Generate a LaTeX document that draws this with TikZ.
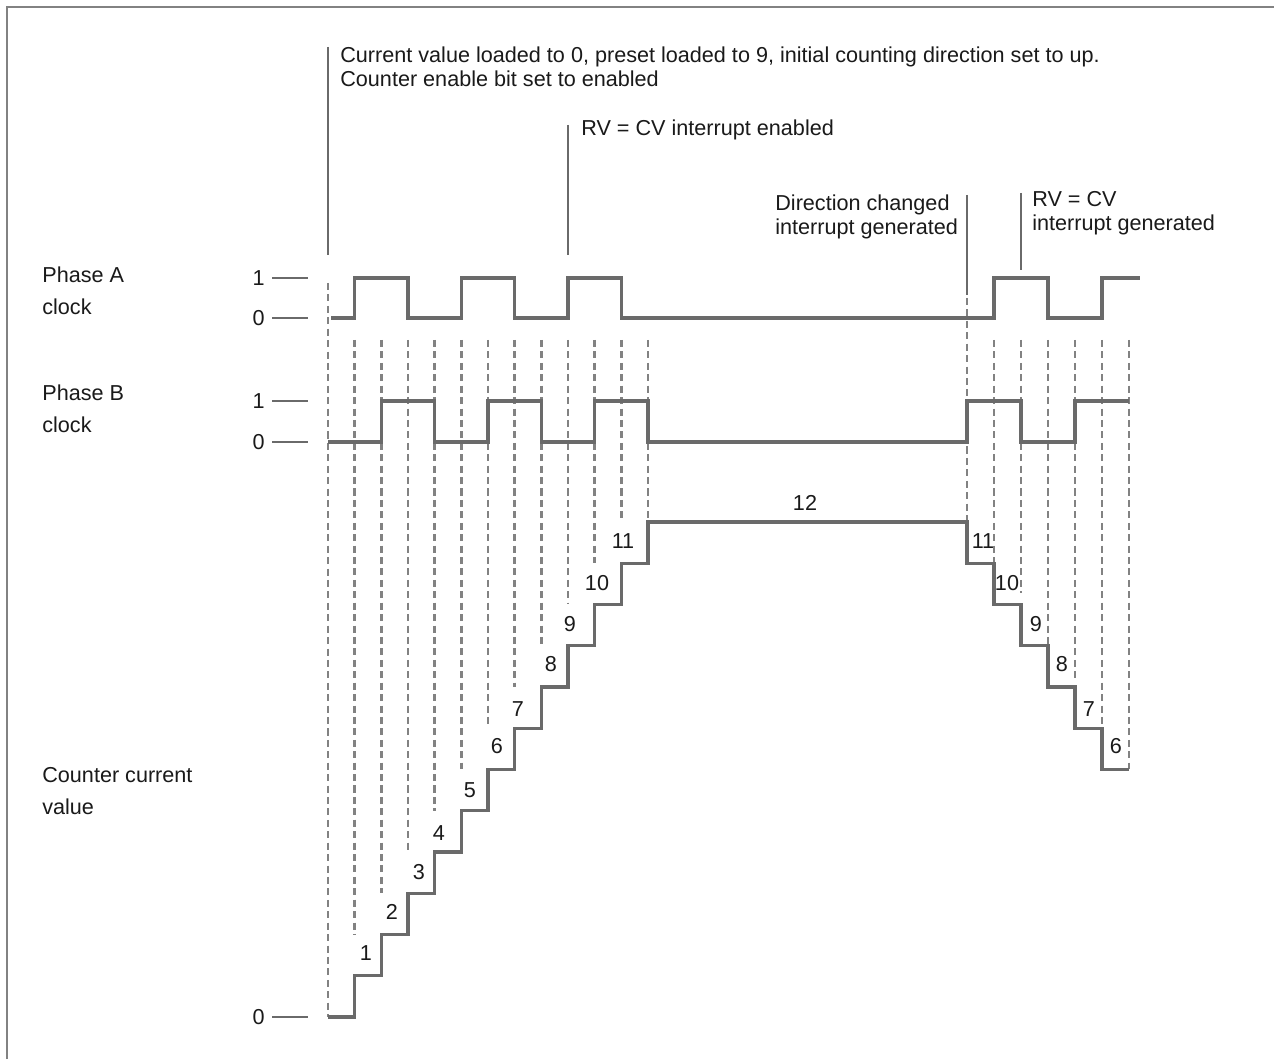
\documentclass[tikz,border=0pt]{standalone}
\usepackage{fontspec}
\setmainfont{Liberation Sans}
\usepackage{xcolor}
\usepackage{tikz}
\usetikzlibrary{positioning}
\definecolor{wgray}{HTML}{6A6A6A}
\definecolor{dgray}{HTML}{828282}
\definecolor{tblack}{HTML}{1A1A1A}

\begin{document}
\begin{tikzpicture}[x=1cm, y=1cm,
  wave/.style={wgray, line width=1.8pt, line join=miter},
  guide/.style={dgray, line width=1.2pt, dash pattern=on 4pt off 2.5pt},
  marker/.style={wgray, line width=1pt},
  lbl/.style={font=\fontsize{12.3}{14.2}\selectfont, text=tblack, inner sep=0pt},
  side/.style={lbl, anchor=base west, align=left, font=\fontsize{12.3}{18.7}\selectfont}]
\useasboundingbox (0,0) rectangle (25.48,21.18);
\fill[white] (0,0) rectangle (25.48,21.18);
\draw[dgray, line width=1.2pt] (0.14,0) -- (0.14,21.04) -- (25.48,21.04);
% signal names (anchor on last line)
\node[side] (lblA) at (0.84,14.88) {Phase A\\clock};
\node[side] (lblB) at (0.84,12.52) {Phase B\\clock};
\node[side] (lblCnt) at (0.84,4.88) {Counter current\\value};
% level marks
\node[lbl, anchor=east] (a1) at (5.30,15.62) {1};
\node[lbl, anchor=east] (a0) at (5.30,14.82) {0};
\node[lbl, anchor=east] (b1) at (5.30,13.16) {1};
\node[lbl, anchor=east] (b0) at (5.30,12.34) {0};
\node[lbl, anchor=east] (c0) at (5.30,0.84) {0};
\draw[marker] ([xshift=0.14cm]a1.east) -- ++(0.72,0);
\draw[marker] ([xshift=0.14cm]a0.east) -- ++(0.72,0);
\draw[marker] ([xshift=0.14cm]b1.east) -- ++(0.72,0);
\draw[marker] ([xshift=0.14cm]b0.east) -- ++(0.72,0);
\draw[marker] ([xshift=0.14cm]c0.east) -- ++(0.72,0);
% notes
\node[lbl, anchor=base west, align=left] (initNote) at (6.80,19.44)
  {Current value loaded to 0, preset loaded to 9, initial counting direction set to up.\\Counter enable bit set to enabled};
\node[lbl, anchor=base west] (rvEnNote) at (11.62,18.46) {RV = CV interrupt enabled};
\node[lbl, anchor=base west, align=left] (dirNote) at (15.50,16.48) {Direction changed\\interrupt generated};
\node[lbl, anchor=base west, align=left] (rvGenNote) at (20.64,16.56) {RV = CV\\interrupt generated};
\coordinate (initTop) at (6.56,20.24);
\coordinate (initBot) at (6.56,16.08);
\coordinate (rvEnTop) at (11.36,18.68);
\coordinate (rvEnBot) at (11.36,16.08);
\coordinate (dirTop) at (19.34,17.28);
\coordinate (dirBot) at (19.34,15.28);
\coordinate (rvGenTop) at (20.42,17.32);
\coordinate (rvGenBot) at (20.42,15.78);
\draw[marker] (initTop) -- (initBot);
\draw[marker] (rvEnTop) -- (rvEnBot);
\draw[marker] (dirTop) -- (dirBot);
\draw[marker] (rvGenTop) -- (rvGenBot);
% edge guides, counting up
\draw[guide] (6.56,15.52) -- (6.56,0.84);
\draw[guide] (7.09,14.38) -- (7.09,2.49);
\draw[guide] (7.63,14.38) -- (7.63,3.315);
\draw[guide] (8.16,14.38) -- (8.16,4.14);
\draw[guide] (8.69,14.38) -- (8.69,4.965);
\draw[guide] (9.23,14.38) -- (9.23,5.79);
\draw[guide] (9.76,14.38) -- (9.76,6.615);
\draw[guide] (10.29,14.38) -- (10.29,7.44);
\draw[guide] (10.83,14.38) -- (10.83,8.265);
\draw[guide] (11.36,14.38) -- (11.36,9.09);
\draw[guide] (11.89,14.38) -- (11.89,9.915);
\draw[guide] (12.43,14.38) -- (12.43,10.74);
\draw[guide] (12.96,14.38) -- (12.96,10.74);
% edge guides, counting down
\draw[guide] (19.34,15.22) -- (19.34,10.74);
\draw[guide] (19.88,14.38) -- (19.88,9.915);
\draw[guide] (20.42,14.38) -- (20.42,9.32);
\draw[guide] (20.96,14.38) -- (20.96,8.265);
\draw[guide] (21.50,14.38) -- (21.50,7.54);
\draw[guide] (22.04,14.38) -- (22.04,6.615);
\draw[guide] (22.58,14.38) -- (22.58,5.79);
% phase A
\draw[wave] (6.62,14.82) -- (7.09,14.82) -- (7.09,15.62) -- (8.16,15.62) -- (8.16,14.82)
  -- (9.23,14.82) -- (9.23,15.62) -- (10.29,15.62) -- (10.29,14.82) -- (11.36,14.82)
  -- (11.36,15.62) -- (12.43,15.62) -- (12.43,14.82) -- (19.88,14.82) -- (19.88,15.62)
  -- (20.96,15.62) -- (20.96,14.82) -- (22.04,14.82) -- (22.04,15.62) -- (22.80,15.62);
% phase B
\draw[wave] (6.56,12.34) -- (7.63,12.34) -- (7.63,13.16) -- (8.69,13.16) -- (8.69,12.34)
  -- (9.76,12.34) -- (9.76,13.16) -- (10.83,13.16) -- (10.83,12.34) -- (11.89,12.34)
  -- (11.89,13.16) -- (12.96,13.16) -- (12.96,12.34) -- (19.34,12.34) -- (19.34,13.16)
  -- (20.42,13.16) -- (20.42,12.34) -- (21.50,12.34) -- (21.50,13.16) -- (22.58,13.16);
% counter value
\draw[wave] (6.56,0.84) -- (7.09,0.84) -- (7.09,1.665) -- (7.63,1.665) -- (7.63,2.49)
  -- (8.16,2.49) -- (8.16,3.315) -- (8.69,3.315) -- (8.69,4.14) -- (9.23,4.14)
  -- (9.23,4.965) -- (9.76,4.965) -- (9.76,5.79) -- (10.29,5.79) -- (10.29,6.615)
  -- (10.83,6.615) -- (10.83,7.44) -- (11.36,7.44) -- (11.36,8.265) -- (11.89,8.265)
  -- (11.89,9.09) -- (12.43,9.09) -- (12.43,9.915) -- (12.96,9.915) -- (12.96,10.74)
  -- (19.34,10.74) -- (19.34,9.915) -- (19.88,9.915) -- (19.88,9.09) -- (20.42,9.09)
  -- (20.42,8.265) -- (20.96,8.265) -- (20.96,7.44) -- (21.50,7.44) -- (21.50,6.615)
  -- (22.04,6.615) -- (22.04,5.79) -- (22.58,5.79);
% counter labels
\node[lbl] (up1) at (7.32,2.12) {1};
\node[lbl] (up2) at (7.84,2.94) {2};
\node[lbl] (up3) at (8.38,3.74) {3};
\node[lbl] (up4) at (8.78,4.52) {4};
\node[lbl] (up5) at (9.40,5.38) {5};
\node[lbl] (up6) at (9.94,6.26) {6};
\node[lbl] (up7) at (10.36,7.00) {7};
\node[lbl] (up8) at (11.02,7.90) {8};
\node[lbl] (up9) at (11.40,8.70) {9};
\node[lbl] (up10) at (11.94,9.52) {10};
\node[lbl] (up11) at (12.46,10.36) {11};
\node[lbl] (top12) at (16.10,11.12) {12};
\node[lbl] (dn11) at (19.66,10.36) {11};
\node[lbl] (dn10) at (20.14,9.52) {10};
\node[lbl] (dn9) at (20.72,8.70) {9};
\node[lbl] (dn8) at (21.24,7.90) {8};
\node[lbl] (dn7) at (21.78,7.00) {7};
\node[lbl] (dn6) at (22.32,6.26) {6};
\end{tikzpicture}
\end{document}
